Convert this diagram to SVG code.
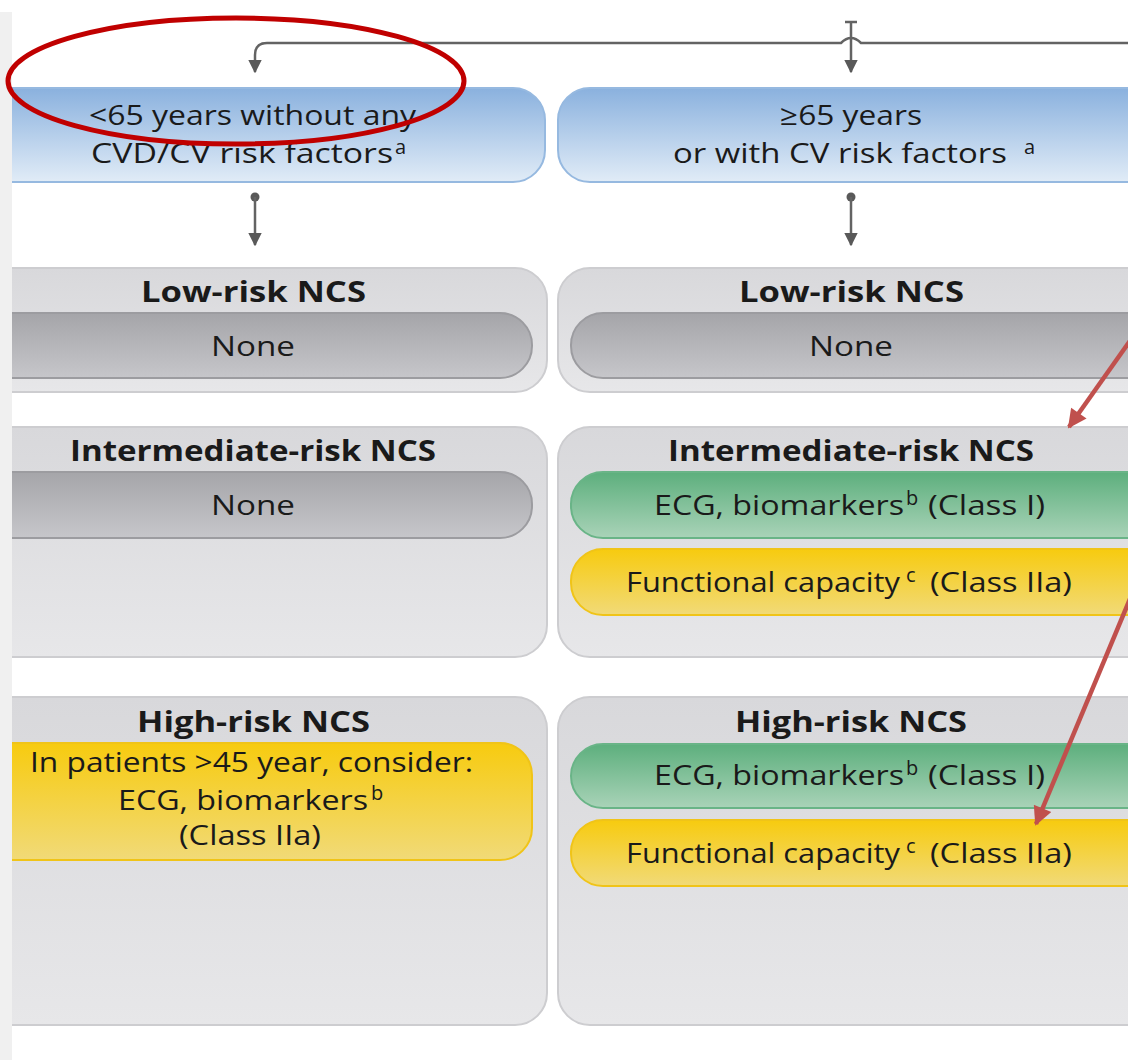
<svg xmlns="http://www.w3.org/2000/svg" width="1128" height="1060" viewBox="0 0 1128 1060">
  <defs>
    <linearGradient id="gBlue" x1="0" y1="0" x2="0" y2="1">
      <stop offset="0" stop-color="#8ab1de"/>
      <stop offset="1" stop-color="#e1ecf7"/>
    </linearGradient>
    <linearGradient id="gPanel" x1="0" y1="0" x2="0" y2="1">
      <stop offset="0" stop-color="#d8d8db"/>
      <stop offset="1" stop-color="#e7e7e9"/>
    </linearGradient>
    <linearGradient id="gNone" x1="0" y1="0" x2="0" y2="1">
      <stop offset="0" stop-color="#a5a5a9"/>
      <stop offset="1" stop-color="#c6c6ca"/>
    </linearGradient>
    <linearGradient id="gGreen" x1="0" y1="0" x2="0" y2="1">
      <stop offset="0" stop-color="#5daf7d"/>
      <stop offset="1" stop-color="#a9d3b8"/>
    </linearGradient>
    <linearGradient id="gYellow" x1="0" y1="0" x2="0" y2="1">
      <stop offset="0" stop-color="#f7cb0f"/>
      <stop offset="1" stop-color="#f1da78"/>
    </linearGradient>
    <marker id="arrGray" viewBox="0 0 10 10" refX="9" refY="5" markerWidth="5.5" markerHeight="5.5" markerUnits="strokeWidth" orient="auto">
      <path d="M0,0 L10,5 L0,10 z" fill="#595959"/>
    </marker>
    <marker id="arrRed" viewBox="0 0 10 10" refX="9" refY="5" markerWidth="5" markerHeight="4.2" markerUnits="strokeWidth" orient="auto">
      <path d="M0,0 L10,5 L0,10 z" fill="#c0504d"/>
    </marker>
  </defs>
  <style>
    .t { font-family: "Open Sans", "Lato", "Noto Sans", sans-serif; fill: #1a1a1a; }
    .h { font-weight: bold; font-size: 28px; }
    .b { font-size: 28px; }
    .sup { font-size: 20px; }
    .panel { fill: url(#gPanel); stroke: #cdcdd0; stroke-width: 2; }
    .blue { fill: url(#gBlue); stroke: #96b9e0; stroke-width: 2; }
    .none { fill: url(#gNone); stroke: #9c9ca0; stroke-width: 2; }
    .green { fill: url(#gGreen); stroke: #69b487; stroke-width: 2; }
    .yellow { fill: url(#gYellow); stroke: #f0c418; stroke-width: 2; }
    .conn { fill: none; stroke: #636363; stroke-width: 2.5; }
    .red { fill: none; stroke: #c0504d; stroke-width: 4.5; }
  </style>

  <rect x="0" y="0" width="1128" height="1060" fill="#ffffff"/>

  <!-- connectors -->
  <g id="connectors">
    <path class="conn" d="M1130,43 H861 Q851,33 841,43 H267 Q255,43 255,55 V72" marker-end="url(#arrGray)"/>
    <path class="conn" d="M845,22 H857 M851,22 V72" marker-end="url(#arrGray)"/>
    <circle cx="255" cy="197" r="4.5" fill="#595959"/>
    <path class="conn" d="M255,197 V245" marker-end="url(#arrGray)"/>
    <circle cx="851" cy="197" r="4.5" fill="#595959"/>
    <path class="conn" d="M851,197 V245" marker-end="url(#arrGray)"/>
  </g>

  <!-- age groups -->
  <g id="age-young">
    <rect class="blue" x="-40" y="88" width="585" height="94" rx="32"/>
    <text class="t b" x="89" y="125" textLength="327" lengthAdjust="spacingAndGlyphs">&lt;65 years without any</text>
    <text class="t b" x="91" y="163" textLength="302" lengthAdjust="spacingAndGlyphs">CVD/CV risk factors</text>
    <text class="t sup" x="395" y="154">a</text>
  </g>
  <g id="age-older">
    <rect class="blue" x="558" y="88" width="610" height="94" rx="32"/>
    <text class="t b" x="780" y="125" textLength="142" lengthAdjust="spacingAndGlyphs">≥65 years</text>
    <text class="t b" x="673" y="163" textLength="334" lengthAdjust="spacingAndGlyphs">or with CV risk factors</text>
    <text class="t sup" x="1024" y="154">a</text>
  </g>

  <!-- low-risk surgery -->
  <g id="low-young">
    <rect class="panel" x="-40" y="268" width="587" height="124" rx="32"/>
    <text class="t h" x="141" y="302" textLength="225" lengthAdjust="spacingAndGlyphs">Low-risk NCS</text>
    <rect class="none" x="-40" y="313" width="572" height="65" rx="32"/>
    <text class="t b" x="211" y="356" textLength="84" lengthAdjust="spacingAndGlyphs">None</text>
  </g>
  <g id="low-older">
    <rect class="panel" x="558" y="268" width="610" height="124" rx="32"/>
    <text class="t h" x="739" y="302" textLength="225" lengthAdjust="spacingAndGlyphs">Low-risk NCS</text>
    <rect class="none" x="571" y="313" width="597" height="65" rx="32"/>
    <text class="t b" x="809" y="356" textLength="84" lengthAdjust="spacingAndGlyphs">None</text>
  </g>

  <!-- intermediate-risk surgery -->
  <g id="intermediate-young">
    <rect class="panel" x="-40" y="427" width="587" height="230" rx="32"/>
    <text class="t h" x="70" y="461" textLength="366" lengthAdjust="spacingAndGlyphs">Intermediate-risk NCS</text>
    <rect class="none" x="-40" y="472" width="572" height="66" rx="32"/>
    <text class="t b" x="211" y="515" textLength="84" lengthAdjust="spacingAndGlyphs">None</text>
  </g>
  <g id="intermediate-older">
    <rect class="panel" x="558" y="427" width="610" height="230" rx="32"/>
    <text class="t h" x="668" y="461" textLength="366" lengthAdjust="spacingAndGlyphs">Intermediate-risk NCS</text>
    <rect class="green" x="571" y="472" width="597" height="66" rx="32"/>
    <text class="t b" x="654" y="515" textLength="250" lengthAdjust="spacingAndGlyphs">ECG, biomarkers</text>
    <text class="t sup" x="906" y="505">b</text>
    <text class="t b" x="928" y="515" textLength="117" lengthAdjust="spacingAndGlyphs">(Class I)</text>
    <rect class="yellow" x="571" y="549" width="597" height="66" rx="32"/>
    <text class="t b" x="626" y="592" textLength="274" lengthAdjust="spacingAndGlyphs">Functional capacity</text>
    <text class="t sup" x="906" y="582">c</text>
    <text class="t b" x="930" y="592" textLength="142" lengthAdjust="spacingAndGlyphs">(Class IIa)</text>
  </g>

  <!-- high-risk surgery -->
  <g id="high-young">
    <rect class="panel" x="-40" y="697" width="587" height="328" rx="32"/>
    <text class="t h" x="137" y="732" textLength="233" lengthAdjust="spacingAndGlyphs">High-risk NCS</text>
    <rect class="yellow" x="-40" y="743" width="572" height="117" rx="32"/>
    <text class="t b" x="30" y="772" textLength="443" lengthAdjust="spacingAndGlyphs">In patients &gt;45 year, consider:</text>
    <text class="t b" x="118" y="810" textLength="250" lengthAdjust="spacingAndGlyphs">ECG, biomarkers</text>
    <text class="t sup" x="371" y="800">b</text>
    <text class="t b" x="179" y="845" textLength="142" lengthAdjust="spacingAndGlyphs">(Class IIa)</text>
  </g>
  <g id="high-older">
    <rect class="panel" x="558" y="697" width="610" height="328" rx="32"/>
    <text class="t h" x="735" y="732" textLength="232" lengthAdjust="spacingAndGlyphs">High-risk NCS</text>
    <rect class="green" x="571" y="744" width="597" height="64" rx="32"/>
    <text class="t b" x="654" y="785" textLength="250" lengthAdjust="spacingAndGlyphs">ECG, biomarkers</text>
    <text class="t sup" x="906" y="775">b</text>
    <text class="t b" x="928" y="785" textLength="117" lengthAdjust="spacingAndGlyphs">(Class I)</text>
    <rect class="yellow" x="571" y="820" width="597" height="66" rx="32"/>
    <text class="t b" x="626" y="863" textLength="274" lengthAdjust="spacingAndGlyphs">Functional capacity</text>
    <text class="t sup" x="906" y="853">c</text>
    <text class="t b" x="930" y="863" textLength="142" lengthAdjust="spacingAndGlyphs">(Class IIa)</text>
  </g>

  <!-- page margin strip -->
  <rect x="0" y="12" width="12" height="1048" fill="#f0f0f0"/>

  <!-- red annotations -->
  <g id="annotations">
    <ellipse cx="236" cy="81" rx="228" ry="63" fill="none" stroke="#c00000" stroke-width="5"/>
    <path class="red" d="M1132,338 L1069,427" marker-end="url(#arrRed)"/>
    <path class="red" d="M1132,594 L1036,824" marker-end="url(#arrRed)"/>
  </g>
</svg>
